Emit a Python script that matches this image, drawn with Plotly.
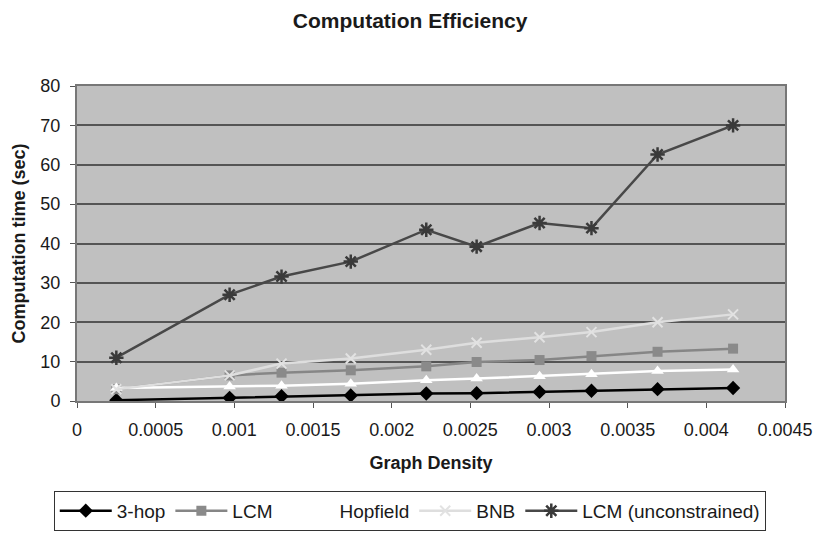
import plotly.graph_objects as go

density = [0.00025, 0.00097, 0.0013, 0.00174, 0.00222, 0.00254, 0.00294, 0.00327, 0.00369, 0.00417]
hop3 = [0.2, 0.8, 1.2, 1.4, 1.9, 2.0, 2.3, 2.6, 3.0, 3.3]
lcm = [3.0, 6.5, 7.2, 7.8, 8.8, 9.9, 10.4, 11.4, 12.5, 13.3]
hopfield = [3.3, 3.7, 3.9, 4.4, 5.3, 5.7, 6.3, 6.8, 7.6, 8.0]
bnb = [3.0, 6.5, 9.5, 10.8, 13.0, 14.8, 16.2, 17.5, 20.0, 22.0]
lcm_unc = [11.0, 27.0, 31.6, 35.4, 43.5, 39.2, 45.2, 43.9, 62.6, 70.0]

xticks = [0, 0.0005, 0.001, 0.0015, 0.002, 0.0025, 0.003, 0.0035, 0.004, 0.0045]
xticklabels = ["0", "0.0005", "0.001", "0.0015", "0.002", "0.0025", "0.003", "0.0035", "0.004", "0.0045"]
yticks = [0, 10, 20, 30, 40, 50, 60, 70, 80]

fig = go.Figure()
series = [
    ("3-hop", hop3, "#000000", dict(symbol="diamond", size=11, color="#000000")),
    ("LCM", lcm, "#868686", dict(symbol="square", size=10, color="#8a8a8a")),
    ("Hopfield", hopfield, "#ffffff", dict(symbol="triangle-up", size=11, color="#ffffff")),
    ("BNB", bnb, "#dedede", dict(symbol="x-thin-open", size=10, color="#e2e2e2", line=dict(width=2, color="#e2e2e2"))),
    ("LCM (unconstrained)", lcm_unc, "#484848", dict(symbol="asterisk-open", size=12, color="#3a3a3a", line=dict(width=2.5, color="#3a3a3a"))),
]
for name, ys, col, mk in series:
    fig.add_trace(go.Scatter(x=density, y=ys, name=name, mode="lines+markers",
                             line=dict(color=col, width=2.5), marker=mk))

font = "Liberation Sans, Arial, sans-serif"
fig.update_layout(
    width=817, height=533,
    margin=dict(l=77, r=32, t=86, b=132, autoexpand=False),
    paper_bgcolor="white", plot_bgcolor="#c0c0c0",
    font=dict(family=font, size=18, color="#1a1a1a"),
    title=dict(text="<b>Computation Efficiency</b>", x=0.502, xanchor="center", y=0.961, yanchor="middle",
               font=dict(size=21, family=font, color="#1a1a1a")),
    showlegend=True,
    legend=dict(orientation="h", x=0.47, xanchor="center", yref="container", y=0.004, yanchor="bottom",
                bordercolor="#333333", borderwidth=1, bgcolor="white",
                font=dict(size=19, family=font), itemwidth=52, tracegroupgap=0),
)
fig.update_xaxes(range=[0, 0.0045], tickvals=xticks, ticktext=xticklabels, showgrid=False,
                 ticks="outside", ticklen=5, tickcolor="#555555", showline=True, linecolor="#777777",
                 linewidth=2, mirror=True, zeroline=False, ticklabelstandoff=6,
                 tickfont=dict(size=18),
                 title=dict(text="<b>Graph Density</b>", font=dict(size=18, family=font), standoff=18))
fig.update_yaxes(range=[0, 80], tickvals=yticks, showgrid=True, gridcolor="#555555", gridwidth=2,
                 ticks="outside", ticklen=5, tickcolor="#555555", showline=True, linecolor="#777777",
                 linewidth=2, mirror=True, zeroline=False, ticklabelstandoff=6,
                 tickfont=dict(size=18),
                 title=dict(text="<b>Computation time (sec)</b>", font=dict(size=18, family=font), standoff=10))

fig.write_html("out.html")
